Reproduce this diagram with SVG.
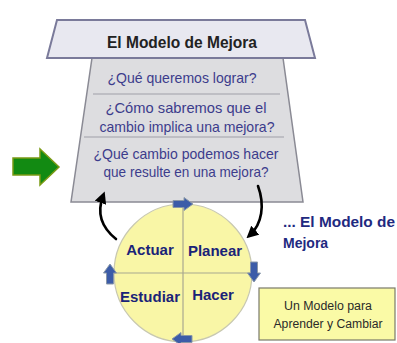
<svg xmlns="http://www.w3.org/2000/svg" width="397" height="343" viewBox="0 0 397 343">
<defs>
<style>
.q{font-family:"Liberation Sans",Arial,sans-serif;font-size:14.5px;fill:#3c3c8c;text-anchor:middle}
.cl{font-family:"Liberation Sans",Arial,sans-serif;font-size:15px;font-weight:bold;fill:#1a2378;text-anchor:middle}
.div{stroke:#a0a0a8;stroke-width:1.2}
.blue{fill:#3c5ca8;stroke:#8a98a8;stroke-width:1}
.blk{fill:none;stroke:#000;stroke-width:2.6;stroke-linecap:round}
</style>
<marker id="ah" viewBox="0 0 10 10" refX="6" refY="5" markerWidth="4.6" markerHeight="4.6" orient="auto">
<path d="M0,0 L10,5 L0,10 z" fill="#000"/>
</marker>
<polygon id="barrow" points="-10,-3.5 1,-3.5 1,-6.5 10,0 1,6.5 1,3.5 -10,3.5"/>
</defs>
<rect width="397" height="343" fill="#fff"/>

<g id="body">
<polygon points="92,58 283,58 303,202 71,202" fill="#dddde0" stroke="#8a8a94" stroke-width="1.5"/>
<line class="div" x1="93" y1="94" x2="280" y2="94"/>
<line class="div" x1="84" y1="137" x2="284" y2="137"/>
<text class="q" x="182" y="83" textLength="149" lengthAdjust="spacingAndGlyphs">¿Qué queremos lograr?</text>
<text class="q" x="186" y="113" textLength="161" lengthAdjust="spacingAndGlyphs">¿Cómo sabremos que el</text>
<text class="q" x="187" y="132" textLength="175" lengthAdjust="spacingAndGlyphs">cambio implica una mejora?</text>
<text class="q" x="186" y="159" textLength="185" lengthAdjust="spacingAndGlyphs">¿Qué cambio podemos hacer</text>
<text class="q" x="186" y="177" textLength="165" lengthAdjust="spacingAndGlyphs">que resulte en una mejora?</text>
</g>

<g id="title">
<polygon points="57,20 305,20 315,58 47,58" fill="#e8e8f0" stroke="#7a7a9a" stroke-width="2"/>
<text x="182" y="48" font-family="'Liberation Sans',Arial,sans-serif" font-size="17" font-weight="bold" fill="#222" text-anchor="middle" textLength="150" lengthAdjust="spacingAndGlyphs">El Modelo de Mejora</text>
</g>

<g id="green-arrow">
<polygon points="13,158 40,158 40,149 59,167 40,185 40,175 13,175" fill="#128a12" stroke="#7a9a14" stroke-width="1.5"/>
</g>

<g id="cycle">
<circle cx="183" cy="273" r="69" fill="#f9f6a6" stroke="#c8c8b0" stroke-width="1.2"/>
<line x1="183" y1="204" x2="183" y2="342" stroke="#a8a890" stroke-width="1.2"/>
<line x1="114" y1="273" x2="252" y2="273" stroke="#a8a890" stroke-width="1.2"/>
<text class="cl" x="150" y="255">Actuar</text>
<text class="cl" x="215" y="256">Planear</text>
<text class="cl" x="150" y="302">Estudiar</text>
<text class="cl" x="213" y="300">Hacer</text>
</g>

<g id="connectors">
<path class="blk" d="M116,239 C101,227 97,212 103,196" marker-end="url(#ah)"/>
<path class="blk" d="M258,186 C265,205 262,224 250,235" marker-end="url(#ah)"/>
<use href="#barrow" class="blue" transform="translate(183,204)"/>
<use href="#barrow" class="blue" transform="translate(254,272) rotate(90)"/>
<use href="#barrow" class="blue" transform="translate(182,339) rotate(180)"/>
<use href="#barrow" class="blue" transform="translate(110,274) rotate(-90)"/>
</g>

<g id="caption">
<text x="283" y="227" font-family="'Liberation Sans',Arial,sans-serif" font-size="14" font-weight="bold" fill="#1f2a80" textLength="112" lengthAdjust="spacingAndGlyphs">... El Modelo de</text>
<text x="283" y="248" font-family="'Liberation Sans',Arial,sans-serif" font-size="14" font-weight="bold" fill="#1f2a80">Mejora</text>
</g>

<g id="note">
<rect x="259" y="288" width="136" height="52" fill="#fafaa6" stroke="#7a7a6a" stroke-width="1.2"/>
<text x="328" y="310" font-family="'Liberation Sans',Arial,sans-serif" font-size="12" fill="#2a2a2a" text-anchor="middle" textLength="88" lengthAdjust="spacingAndGlyphs">Un Modelo para</text>
<text x="328" y="328" font-family="'Liberation Sans',Arial,sans-serif" font-size="12" fill="#2a2a2a" text-anchor="middle" textLength="109" lengthAdjust="spacingAndGlyphs">Aprender y Cambiar</text>
</g>
</svg>
